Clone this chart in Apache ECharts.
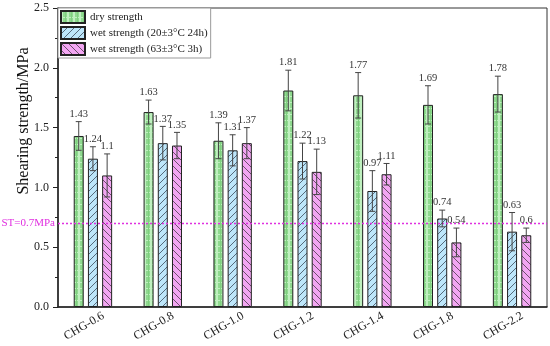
<!DOCTYPE html>
<html><head><meta charset="utf-8">
<script src="https://cdn.jsdelivr.net/npm/echarts@6/dist/echarts.min.js"></script>
<style>html,body{margin:0;padding:0;background:#fff}#c{width:550px;height:346px}</style>
</head><body><div id="c"></div>
<script>
const categories = ['CHG-0.6','CHG-0.8','CHG-1.0','CHG-1.2','CHG-1.4','CHG-1.8','CHG-2.2'];
const seriesNames = ['dry strength','wet strength (20±3°C 24h)','wet strength (63±3°C 3h)'];
const dryValues = [1.43,1.63,1.39,1.81,1.77,1.69,1.78];
const wet20Values = [1.24,1.37,1.31,1.22,0.97,0.74,0.63];
const wet63Values = [1.10,1.35,1.37,1.13,1.11,0.54,0.60];
const dryErrors = [0.12,0.10,0.15,0.17,0.19,0.16,0.15];
const wet20Errors = [0.10,0.14,0.13,0.15,0.17,0.07,0.16];
const wet63Errors = [0.18,0.11,0.13,0.19,0.09,0.12,0.06];
const yTicks = [0,0.5,1.0,1.5,2.0,2.5];
const stValue = 0.7;

const FONT = '"Liberation Serif", "DejaVu Serif", serif';

function makePattern(kind){
  const c = document.createElement('canvas');
  const ctx = c.getContext('2d');
  if(kind==='green'){
    c.width=6;c.height=6;
    ctx.fillStyle='#8fd98f';ctx.fillRect(0,0,6,6);
    ctx.fillStyle='#bff0bf';ctx.fillRect(0,0,2,6);ctx.fillRect(0,0,6,1);
    ctx.fillStyle='#7fcf7f';ctx.fillRect(4,0,1,6);
  } else if(kind==='blue'){
    c.width=7;c.height=7;
    ctx.fillStyle='#bde6fa';ctx.fillRect(0,0,7,7);
    ctx.strokeStyle='#3a4a5a';ctx.lineWidth=0.8;
    ctx.beginPath();ctx.moveTo(-1,8);ctx.lineTo(8,-1);ctx.stroke();
  } else {
    c.width=7;c.height=7;
    ctx.fillStyle='#f2a6f2';ctx.fillRect(0,0,7,7);
    ctx.strokeStyle='#4a3a4a';ctx.lineWidth=0.8;
    ctx.beginPath();ctx.moveTo(-1,-1);ctx.lineTo(8,8);ctx.stroke();
  }
  return {image:c, repeat:'repeat'};
}
const patterns = [makePattern('green'),makePattern('blue'),makePattern('pink')];
const valuesList = [dryValues,wet20Values,wet63Values];
const errorsList = [dryErrors,wet20Errors,wet63Errors];

const BAR_W = 10, GAP = 4.2;

const chart = echarts.init(document.getElementById('c'));
const series = [];
valuesList.forEach((vals,k)=>{
  series.push({
    name: seriesNames[k], type:'bar', data: vals,
    barWidth: BAR_W, barGap: (GAP/BAR_W*100)+'%',
    itemStyle:{color: patterns[k], borderColor:'#222', borderWidth:1},
    z: 2
  });
});
// ST reference line drawn as a custom series across the grid
series.push({
  type:'custom', silent:true, z:4,
  data:[[stValue]],
  renderItem:(params, api)=>{
    const y = Math.round(api.coord([0, api.value(0)])[1]) + 0.5;
    const cs = params.coordSys;
    return {type:'group', children:[
      {type:'line', shape:{x1:cs.x, y1:y, x2:cs.x+cs.width, y2:y},
       style:{stroke:'#e030e0', lineWidth:1.3, lineDash:[2,2]}},
      {type:'text', x:cs.x-3, y:y, style:{text:'ST=0.7MPa', fill:'#e030e0', font:'11px '+FONT, textAlign:'right', textVerticalAlign:'middle'}}
    ]};
  }
});
valuesList.forEach((vals,k)=>{
  series.push({
    type:'custom', z:5, silent:true,
    data: vals.map((v,i)=>[i, v, errorsList[k][i]]),
    renderItem:(params, api)=>{
      const i = api.value(0), v = api.value(1), e = api.value(2);
      const off = (k-1)*(BAR_W+GAP);
      const pt = api.coord([i, v+e]);
      const pb = api.coord([i, v-e]);
      const x = pt[0]+off;
      const st = {stroke:'#444', lineWidth:1};
      return {type:'group', children:[
        {type:'line', shape:{x1:x,y1:pt[1],x2:x,y2:pb[1]}, style:st},
        {type:'line', shape:{x1:x-3,y1:pt[1],x2:x+3,y2:pt[1]}, style:st},
        {type:'line', shape:{x1:x-3,y1:pb[1],x2:x+3,y2:pb[1]}, style:st},
        {type:'text', x:x, y:pt[1]-2, style:{text:String(v), fill:'#333', font:'10.5px '+FONT, textAlign:'center', textVerticalAlign:'bottom'}}
      ]};
    }
  });
});

chart.setOption({
  animation:false,
  grid:{left:58, right:3, top:8, bottom:39, show:true, borderColor:'#333', borderWidth:1},
  legend:{
    data: seriesNames, orient:'vertical', left:58, top:8,
    itemWidth:24, itemHeight:12, itemGap:2, padding:[2,3,2,2],
    borderColor:'#999', borderWidth:1, backgroundColor:'#fff',
    textStyle:{fontFamily:FONT, fontSize:11, color:'#222'},
    icon:'rect'
  },
  xAxis:{
    type:'category', data:categories,
    axisLine:{lineStyle:{color:'#222', width:1.5}},
    axisTick:{show:false},
    axisLabel:{rotate:30, fontFamily:FONT, fontSize:12, color:'#222', margin:14, padding:[0,-12,0,0]}
  },
  yAxis:{
    type:'value', min:yTicks[0], max:yTicks[yTicks.length-1], interval:0.5,
    axisLine:{show:true, lineStyle:{color:'#222', width:1.5}},
    axisTick:{show:true, inside:false, length:5, lineStyle:{color:'#222'}},
    minorTick:{show:true, splitNumber:2, length:3, lineStyle:{color:'#222'}},
    splitLine:{show:false},
    axisLabel:{fontFamily:FONT, fontSize:12, color:'#222', margin:9, formatter:v=>v.toFixed(1)}
  },
  graphic:[{
    type:'text', x:24, y:121, rotation:Math.PI/2,
    style:{text:'Shearing strength/MPa', font:'16px '+FONT, fill:'#111', textAlign:'center', textVerticalAlign:'middle'}
  }],
  series: series
});
</script></body></html>
